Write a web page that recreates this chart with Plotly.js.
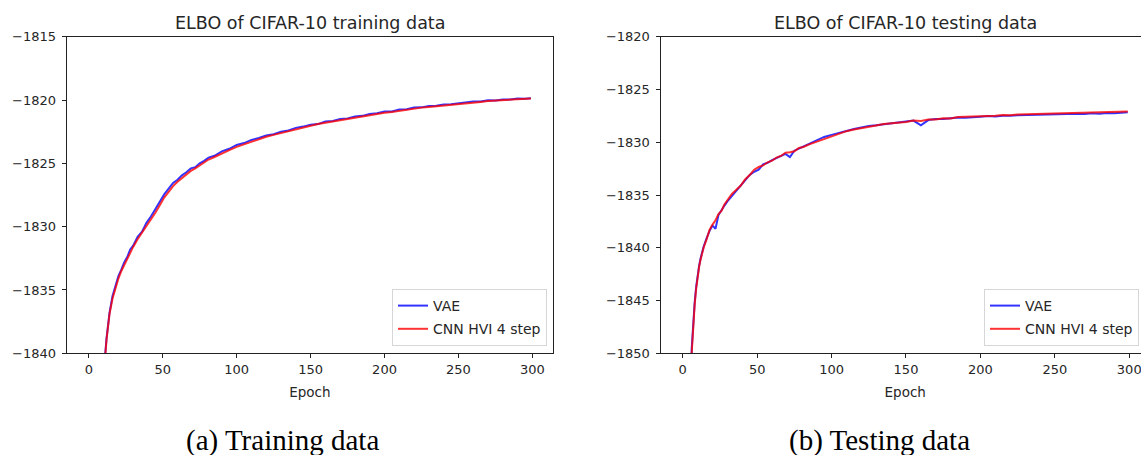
<!DOCTYPE html>
<html>
<head>
<meta charset="utf-8">
<script src="https://cdn.plot.ly/plotly-3.0.1.min.js"></script>
<style>
html, body { margin:0; padding:0; overflow:hidden; background:#fff; }
#chart { width:1160px; height:455px; }
</style>
</head>
<body>
<div id="chart"></div>
<script>
// ---- data ----
const epochs = [0,3,5,6,7,8,9,10,11,12,13,14,
  16,18,20,22,24,26,28,30,
  33,36,39,42,45,48,51,54,57,60,63,66,69,72,75,78,81,
  85,
  90,95,100,105,110,115,120,125,130,135,140,145,150,155,160,165,170,175,180,185,
  190,195,200,205,210,215,220,225,230,235,240,245,250,255,260,265,270,275,280,285,290,295,
  299];

const trainVAE = [-1905,-1880,-1866,-1860,-1854,-1849,-1845.5,-1842.6,-1840.2,-1838.8,-1837.5,-1836.8,
  -1835.5,-1834.7,-1833.9,-1833.4,-1832.8,-1832.4,-1831.8,-1831.5,
  -1830.8,-1830.4,-1829.7,-1829.2,-1828.6,-1828.0,-1827.45,-1827.0,-1826.55,-1826.3,-1825.95,-1825.7,-1825.4,-1825.3,-1825.0,-1824.8,-1824.55,
  -1824.4,
  -1824.05,-1823.85,-1823.55,-1823.4,-1823.15,-1823.0,-1822.8,-1822.7,-1822.5,-1822.4,-1822.2,-1822.1,-1821.95,-1821.9,-1821.7,-1821.65,-1821.5,-1821.45,-1821.3,-1821.25,
  -1821.1,-1821.05,-1820.9,-1820.9,-1820.75,-1820.72,-1820.6,-1820.58,-1820.48,-1820.46,-1820.35,-1820.34,-1820.25,-1820.22,-1820.12,-1820.12,-1820.02,-1820.03,-1819.95,-1819.96,-1819.88,-1819.9,
  -1819.86];

const trainHVI = [-1906,-1881,-1867,-1861,-1855,-1850,-1846,-1842.9,-1840.4,-1838.9,-1837.7,-1836.9,
  -1835.7,-1834.8,-1834.1,-1833.5,-1833.0,-1832.5,-1832.0,-1831.6,
  -1831.0,-1830.5,-1830.0,-1829.4,-1828.9,-1828.3,-1827.7,-1827.25,-1826.8,-1826.45,-1826.15,-1825.85,-1825.6,-1825.4,-1825.15,-1824.95,-1824.7,
  -1824.5,
  -1824.2,-1823.95,-1823.7,-1823.5,-1823.25,-1823.1,-1822.9,-1822.75,-1822.6,-1822.45,-1822.3,-1822.15,-1822.05,-1821.9,-1821.8,-1821.7,-1821.6,-1821.45,-1821.4,-1821.3,
  -1821.2,-1821.1,-1821.0,-1820.95,-1820.85,-1820.75,-1820.7,-1820.6,-1820.55,-1820.5,-1820.42,-1820.38,-1820.3,-1820.25,-1820.2,-1820.15,-1820.08,-1820.05,-1820.0,-1819.98,-1819.95,-1819.92,
  -1819.88];

const testVAE = [-1920,-1876,-1856,-1849.6,-1847.2,-1845.2,-1843.7,-1842.6,-1841.7,-1841.0,-1840.4,-1839.9,
  -1839.1,-1838.4,-1837.9,-1838.2,-1836.9,-1836.4,-1836.0,-1835.6,
  -1835.1,-1834.6,-1834.0,-1833.6,-1833.1,-1832.8,-1832.6,-1832.1,-1831.95,-1831.7,-1831.5,-1831.25,-1831.1,-1831.4,-1830.8,-1830.6,-1830.4,
  -1830.15,
  -1829.85,-1829.5,-1829.3,-1829.1,-1828.9,-1828.75,-1828.6,-1828.45,-1828.4,-1828.3,-1828.2,-1828.1,-1828.05,-1827.95,-1828.4,-1827.9,-1827.8,-1827.8,-1827.72,-1827.65,
  -1827.68,-1827.6,-1827.58,-1827.52,-1827.56,-1827.48,-1827.5,-1827.44,-1827.42,-1827.38,-1827.4,-1827.35,-1827.38,-1827.32,-1827.35,-1827.3,-1827.32,-1827.26,-1827.3,-1827.22,-1827.25,-1827.18,
  -1827.15];

const testHVI = [-1922,-1877,-1857,-1850,-1847.5,-1845.4,-1843.9,-1842.7,-1841.8,-1841.1,-1840.5,-1840.0,
  -1839.2,-1838.3,-1837.8,-1837.4,-1836.8,-1836.5,-1835.9,-1835.5,
  -1834.9,-1834.5,-1834.1,-1833.5,-1833.1,-1832.6,-1832.35,-1832.2,-1831.9,-1831.75,-1831.45,-1831.3,-1831.0,-1830.95,-1830.85,-1830.55,-1830.45,
  -1830.2,
  -1829.95,-1829.65,-1829.4,-1829.2,-1828.95,-1828.8,-1828.65,-1828.5,-1828.42,-1828.28,-1828.22,-1828.1,-1828.08,-1827.95,-1827.98,-1827.85,-1827.85,-1827.72,-1827.75,-1827.62,
  -1827.6,-1827.55,-1827.56,-1827.48,-1827.5,-1827.42,-1827.44,-1827.38,-1827.36,-1827.3,-1827.32,-1827.25,-1827.26,-1827.2,-1827.22,-1827.16,-1827.18,-1827.12,-1827.14,-1827.1,-1827.12,-1827.06,
  -1827.08];

const seriesNames = ['VAE', 'CNN HVI 4 step'];
const panelTitles = ['ELBO of CIFAR-10 training data', 'ELBO of CIFAR-10 testing data'];
const captions = ['(a) Training data', '(b) Testing data'];
const xTickVals = [0, 50, 100, 150, 200, 250, 300];

// ---- styling ----
const W = 1160, H = 455;
const blue = 'rgba(0,0,255,0.8)', red = 'rgba(255,0,0,0.8)';
const txt = '#262626';
const F = 'DejaVu Sans, sans-serif';

const traces = [
  {x: epochs, y: trainVAE, name: seriesNames[0], xaxis:'x', yaxis:'y', legend:'legend', legendgroup:'a1',
   mode:'lines', line:{color:blue, width:2}},
  {x: epochs, y: trainHVI, name: seriesNames[1], xaxis:'x', yaxis:'y', legend:'legend', legendgroup:'a2',
   mode:'lines', line:{color:red, width:2}},
  {x: epochs, y: testVAE, name: seriesNames[0], xaxis:'x2', yaxis:'y2', legend:'legend2', legendgroup:'b1',
   mode:'lines', line:{color:blue, width:2}},
  {x: epochs, y: testHVI, name: seriesNames[1], xaxis:'x2', yaxis:'y2', legend:'legend2', legendgroup:'b2',
   mode:'lines', line:{color:red, width:2}}
];

function xax(domain, anchor) {
  return {domain: domain, anchor: anchor, range: [-14.95, 313.95], tickvals: xTickVals,
    showgrid:false, zeroline:false, showline:true, mirror:true, linecolor:'#222', linewidth:1,
    ticks:'outside', ticklen:4, tickcolor:'#222', tickfont:{family:F, size:13, color:txt},
    title:{text:'Epoch', font:{family:F, size:13.5, color:txt}, standoff:11}};
}
function yax(domain, anchor, range) {
  return {domain: domain, anchor: anchor, range: range, dtick:5, tick0:0,
    showgrid:false, zeroline:false, showline:true, mirror:true, linecolor:'#222', linewidth:1,
    ticks:'outside', ticklen:4, tickcolor:'#222', tickfont:{family:F, size:13, color:txt},
    ticklabelstandoff: 3};
}
const yDom = [1 - 353.3/H, 1 - 36.7/H];

const legendStyle = (xr) => ({x: xr, xanchor:'right', y: 1 - 346/H, yanchor:'bottom',
  bgcolor:'rgba(255,255,255,0.8)', bordercolor:'#d6d6d6', borderwidth:1,
  font:{family:F, size:14, color:txt}, tracegroupgap:2, traceorder:'grouped'});

const layout = {
  width: W, height: H,
  margin: {l:0, r:0, t:0, b:0},
  paper_bgcolor:'#fff', plot_bgcolor:'#fff',
  showlegend: true,
  xaxis: xax([66.7/W, 553/W], 'y'),
  yaxis: yax(yDom, 'x', [-1840, -1815]),
  xaxis2: xax([660.5/W, 1150/W], 'y2'),
  yaxis2: yax(yDom, 'x2', [-1850, -1820]),
  legend: legendStyle(547/W),
  legend2: legendStyle(1139/W),
  annotations: [
    {text: panelTitles[0], xref:'x domain', x:0.5, yref:'paper', y:1 - 22.7/H, yanchor:'middle', xanchor:'center',
     showarrow:false, font:{family:F, size:17.5, color:txt}},
    {text: panelTitles[1], xref:'x2 domain', x:0.5, yref:'paper', y:1 - 22.7/H, yanchor:'middle', xanchor:'center',
     showarrow:false, font:{family:F, size:17.5, color:txt}},
    {text: captions[0], xref:'paper', x:282/W, yref:'paper', y:1 - 440/H, yanchor:'middle', xanchor:'center',
     showarrow:false, font:{family:'Liberation Serif, serif', size:29, color:'#000'}},
    {text: captions[1], xref:'paper', x:879/W, yref:'paper', y:1 - 440/H, yanchor:'middle', xanchor:'center',
     showarrow:false, font:{family:'Liberation Serif, serif', size:29, color:'#000'}}
  ]
};

Plotly.newPlot('chart', traces, layout, {staticPlot:true, displayModeBar:false});
</script>
</body>
</html>
